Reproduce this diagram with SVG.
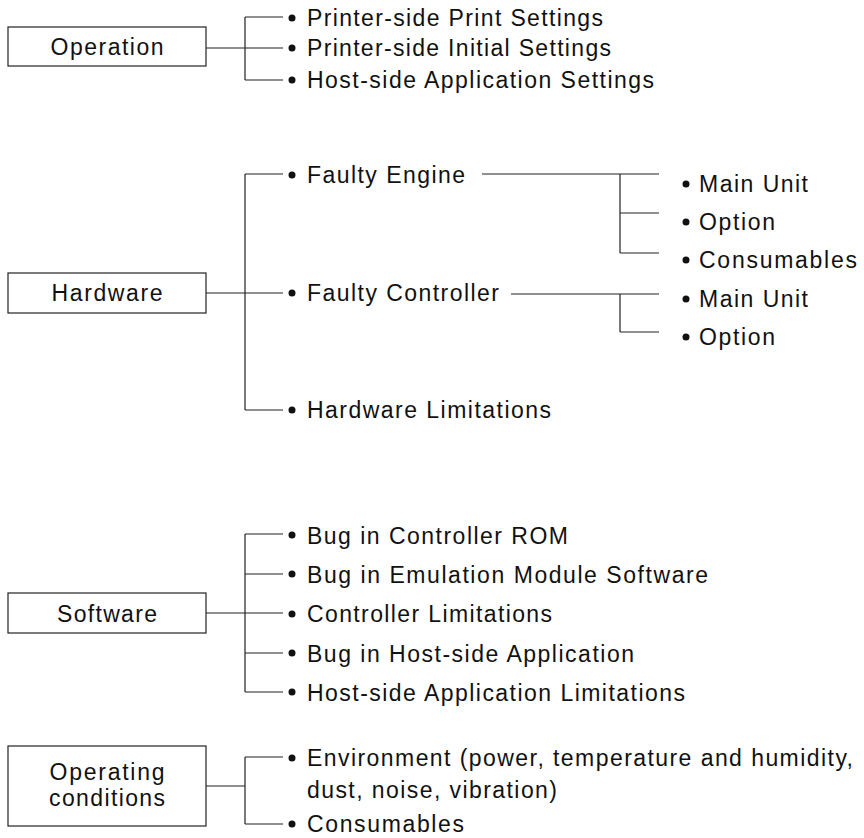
<svg xmlns="http://www.w3.org/2000/svg" width="864" height="838" viewBox="0 0 864 838">
<style>
  text { font-family: "Liberation Sans", Arial, sans-serif; font-size: 23px; fill: #111; }
  .box { fill: #fff; stroke: #222; stroke-width: 1.2; }
  .ln { fill: none; stroke: #222; stroke-width: 1.2; }
  .dot { fill: #111; }
  .c { text-anchor: middle; }
</style>
<rect width="864" height="838" fill="#fff"/>

<g id="connectors">
  <!-- Operation -->
  <path class="ln" d="M206 48H245M245 17V80M245 17H283M245 48H283M245 80H283"/>
  <!-- Hardware -->
  <path class="ln" d="M206 293H245M245 174V410M245 174H283M245 293H283M245 410H283"/>
  <path class="ln" d="M482 174H659M620 174V253M620 213H659M620 253H659"/>
  <path class="ln" d="M511 294H659M620 294V332M620 332H659"/>
  <!-- Software -->
  <path class="ln" d="M206 613H245M245 534V692M245 534H283M245 574H283M245 613H283M245 653H283M245 692H283"/>
  <!-- Operating conditions -->
  <path class="ln" d="M206 786H245M245 757V824M245 757H283M245 824H283"/>
</g>

<g id="operation">
  <rect class="box" x="8" y="27" width="198" height="39"/>
  <text class="c" x="107" y="55" textLength="113" lengthAdjust="spacing">Operation</text>
</g>
<g id="op-print-settings">
  <circle class="dot" cx="292" cy="18" r="3.5"/>
  <text x="307" y="26" textLength="296" lengthAdjust="spacing">Printer-side Print Settings</text>
</g>
<g id="op-initial-settings">
  <circle class="dot" cx="292" cy="48" r="3.5"/>
  <text x="307" y="56" textLength="304" lengthAdjust="spacing">Printer-side Initial Settings</text>
</g>
<g id="op-host-settings">
  <circle class="dot" cx="292" cy="80" r="3.5"/>
  <text x="307" y="88" textLength="347" lengthAdjust="spacing">Host-side Application Settings</text>
</g>

<g id="hardware">
  <rect class="box" x="8" y="273" width="198" height="40"/>
  <text class="c" x="107" y="301" textLength="111" lengthAdjust="spacing">Hardware</text>
</g>
<g id="hw-faulty-engine">
  <circle class="dot" cx="292" cy="175" r="3.5"/>
  <text x="307" y="183" textLength="158" lengthAdjust="spacing">Faulty Engine</text>
</g>
<g id="hw-faulty-controller">
  <circle class="dot" cx="292" cy="293" r="3.5"/>
  <text x="307" y="301" textLength="192" lengthAdjust="spacing">Faulty Controller</text>
</g>
<g id="hw-limitations">
  <circle class="dot" cx="292" cy="410" r="3.5"/>
  <text x="307" y="418" textLength="244" lengthAdjust="spacing">Hardware Limitations</text>
</g>
<g id="eng-main-unit">
  <circle class="dot" cx="686" cy="184" r="3.5"/>
  <text x="699" y="192" textLength="109" lengthAdjust="spacing">Main Unit</text>
</g>
<g id="eng-option">
  <circle class="dot" cx="686" cy="222" r="3.5"/>
  <text x="699" y="230" textLength="76" lengthAdjust="spacing">Option</text>
</g>
<g id="eng-consumables">
  <circle class="dot" cx="686" cy="260" r="3.5"/>
  <text x="699" y="268" textLength="158" lengthAdjust="spacing">Consumables</text>
</g>
<g id="ctl-main-unit">
  <circle class="dot" cx="686" cy="299" r="3.5"/>
  <text x="699" y="307" textLength="109" lengthAdjust="spacing">Main Unit</text>
</g>
<g id="ctl-option">
  <circle class="dot" cx="686" cy="337" r="3.5"/>
  <text x="699" y="345" textLength="76" lengthAdjust="spacing">Option</text>
</g>

<g id="software">
  <rect class="box" x="8" y="593" width="198" height="40"/>
  <text class="c" x="107" y="621.5" textLength="100" lengthAdjust="spacing">Software</text>
</g>
<g id="sw-bug-rom">
  <circle class="dot" cx="292" cy="535" r="3.5"/>
  <text x="307" y="543.5" textLength="261" lengthAdjust="spacing">Bug in Controller ROM</text>
</g>
<g id="sw-bug-emulation">
  <circle class="dot" cx="292" cy="574" r="3.5"/>
  <text x="307" y="582.5" textLength="401" lengthAdjust="spacing">Bug in Emulation Module Software</text>
</g>
<g id="sw-controller-limitations">
  <circle class="dot" cx="292" cy="614" r="3.5"/>
  <text x="307" y="622" textLength="245" lengthAdjust="spacing">Controller Limitations</text>
</g>
<g id="sw-bug-host">
  <circle class="dot" cx="292" cy="653" r="3.5"/>
  <text x="307" y="661.5" textLength="327" lengthAdjust="spacing">Bug in Host-side Application</text>
</g>
<g id="sw-host-limitations">
  <circle class="dot" cx="292" cy="692" r="3.5"/>
  <text x="307" y="700.5" textLength="378" lengthAdjust="spacing">Host-side Application Limitations</text>
</g>

<g id="operating-conditions">
  <rect class="box" x="8" y="746" width="198" height="80"/>
  <text class="c" x="107" y="780" textLength="115" lengthAdjust="spacing">Operating</text>
  <text class="c" x="107" y="806" textLength="116" lengthAdjust="spacing">conditions</text>
</g>
<g id="oc-environment">
  <circle class="dot" cx="292" cy="758" r="3.5"/>
  <text x="307" y="766" textLength="546" lengthAdjust="spacing">Environment (power, temperature and humidity,</text>
  <text x="307" y="798" textLength="250" lengthAdjust="spacing">dust, noise, vibration)</text>
</g>
<g id="oc-consumables">
  <circle class="dot" cx="292" cy="824" r="3.5"/>
  <text x="307" y="832" textLength="157" lengthAdjust="spacing">Consumables</text>
</g>
</svg>
